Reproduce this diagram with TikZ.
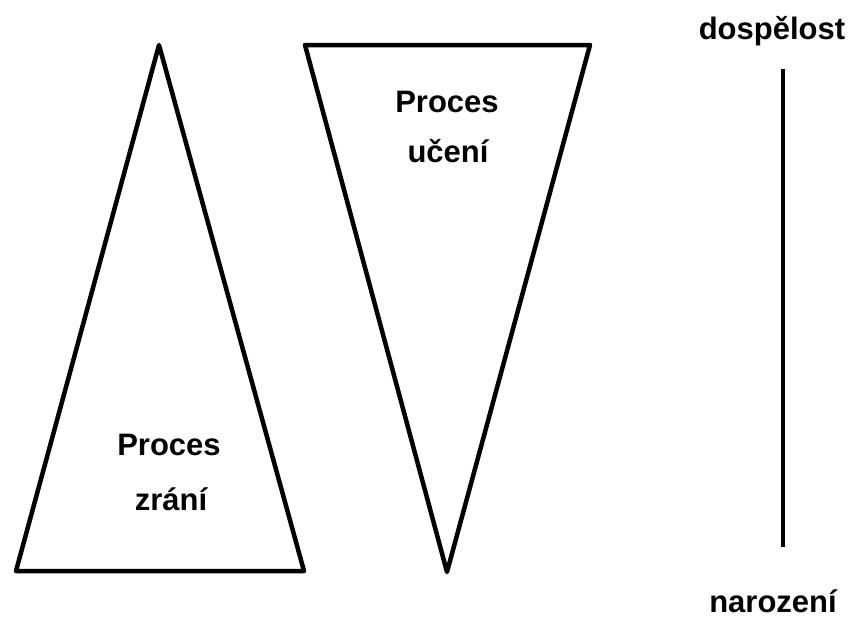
\documentclass[tikz,border=0pt]{standalone}
\usepackage{fontspec}
\setmainfont{Liberation Sans}
\begin{document}
\begin{tikzpicture}[x=1pt,y=-1pt,
  shape line/.style={draw=black,line width=4.5pt,line join=round,line cap=round},
  label text/.style={font=\bfseries\fontsize{31}{36}\selectfont,anchor=base,inner sep=0pt}]
\useasboundingbox (0,0) rectangle (862,616);
% left triangle
\coordinate (LA) at (159,45);
\coordinate (LB) at (16,571);
\coordinate (LC) at (304,571);
\draw[shape line] (LA) -- (LB) -- (LC) -- cycle;
% right inverted triangle
\coordinate (RA) at (305,45);
\coordinate (RB) at (590,45);
\coordinate (RC) at (447,572);
\draw[shape line] (RA) -- (RB) -- (RC) -- cycle;
% vertical line
\coordinate (VT) at (783,69);
\coordinate (VB) at (783,547);
\draw[line width=4.5pt] (VT) -- (VB);
% texts
\node[label text] (t1) at (447,112) {Proces};
\node[label text] (t2) at (448,162) {učení};
\node[label text] (t3) at (169,455) {Proces};
\node[label text] (t4) at (171,510) {zrání};
\node[label text] (t5) at (772,39) {dospělost};
\node[label text] (t6) at (773,612) {narození};
\end{tikzpicture}
\end{document}
